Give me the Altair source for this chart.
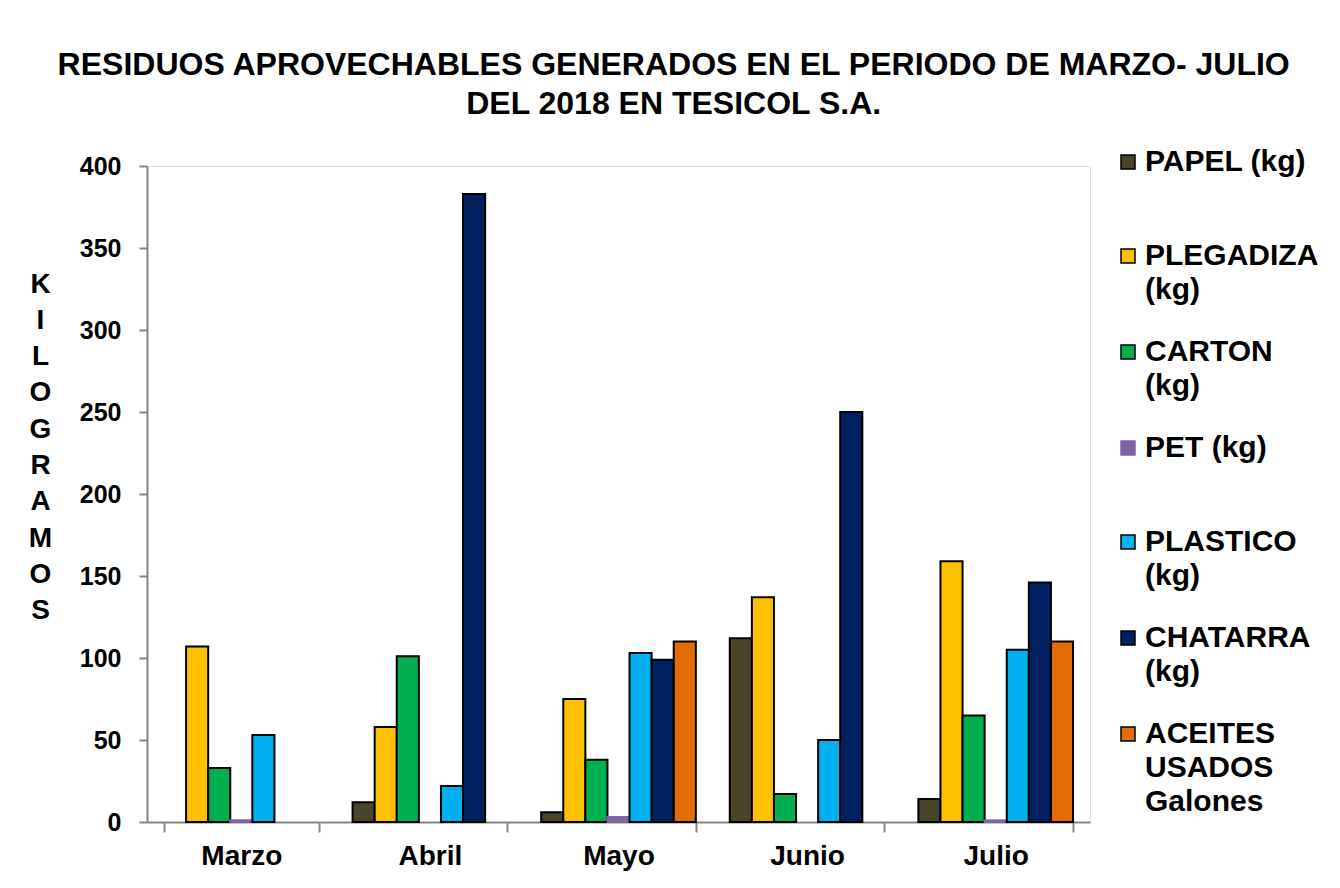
import altair as alt
import pandas as pd

months = ["Marzo", "Abril", "Mayo", "Junio", "Julio"]
series = ["PAPEL (kg)", "PLEGADIZA (kg)", "CARTON (kg)", "PET (kg)",
          "PLASTICO (kg)", "CHATARRA (kg)", "ACEITES USADOS Galones"]
legend_lines = [["PAPEL (kg)"], ["PLEGADIZA", "(kg)"], ["CARTON", "(kg)"], ["PET (kg)"],
                ["PLASTICO", "(kg)"], ["CHATARRA", "(kg)"], ["ACEITES", "USADOS", "Galones"]]
fill_colors = ["#4a452a", "#ffc000", "#00b050", "#8064a2", "#00b0f0", "#002060", "#e36c09"]
stroke_colors = ["#000000", "#000000", "#000000", "#8064a2", "#000000", "#000000", "#000000"]

papel = [0, 12, 6, 112, 14]
plegadiza = [107, 58, 75, 137, 159]
carton = [33, 101, 38, 17, 65]
pet = [1, 0, 3, 0, 1]
plastico = [53, 22, 103, 50, 105]
chatarra = [0, 383, 99, 250, 146]
aceites = [0, 0, 110, 0, 110]

y_ticks = [0, 50, 100, 150, 200, 250, 300, 350, 400]
title_lines = ["RESIDUOS APROVECHABLES GENERADOS EN EL PERIODO DE MARZO- JULIO",
               "DEL 2018 EN TESICOL S.A."]
y_title = list("KILOGRAMOS")

all_vals = [papel, plegadiza, carton, pet, plastico, chatarra, aceites]
rows = []
for s, vals in zip(series, all_vals):
    for m, v in zip(months, vals):
        if v > 0:
            rows.append({"Mes": m, "Serie": s, "Valor": v})
df = pd.DataFrame(rows)

def js_list(lines):
    return "[" + ", ".join("'" + l + "'" for l in lines) + "]"

expr = "''"
for s, lines in reversed(list(zip(series, legend_lines))):
    expr = f"datum.label == '{s}' ? {js_list(lines)} : ({expr})"

FONT = "Liberation Sans"

legend_kw = dict(title=None, orient="none", legendX=966, legendY=-51,
                 labelExpr=expr, labelFont=FONT, labelFontSize=30,
                 labelFontWeight="bold", labelColor="#000000",
                 labelBaseline="middle",
                 labelOffset=2, labelLimit=400,
                 symbolType="square", symbolSize=196,
                 symbolStrokeWidth=1.5, symbolOpacity=1,
                 clipHeight=94, rowPadding=0)

chart = alt.Chart(df).mark_bar(strokeWidth=2).encode(
    x=alt.X("Mes:N", sort=months, title=None,
            scale=alt.Scale(paddingInner=0.18, paddingOuter=0.09),
            axis=alt.Axis(labelAngle=0, labelFontSize=28, labelFont=FONT, labelFontWeight="bold",
                          labelColor="#000000", labelPadding=10, tickBand="extent",
                          tickSize=10, tickColor="#868686", tickWidth=2,
                          domainColor="#868686", domainWidth=2)),
    xOffset=alt.XOffset("Serie:N", sort=series, scale=alt.Scale(domain=series, paddingInner=0, paddingOuter=0)),
    y=alt.Y("Valor:Q", scale=alt.Scale(domain=[0, 400]),
            axis=alt.Axis(values=y_ticks, grid=False, title=y_title, titleAngle=0,
                          titleFont=FONT, titleFontSize=28, titleFontWeight="bold",
                          titleColor="#000000", titleLineHeight=36.3, titleBaseline="top",
                          titleAlign="center", titleX=-107, titleY=104,
                          labelFontSize=25, labelFont=FONT, labelFontWeight="bold",
                          labelColor="#000000", labelPadding=18,
                          tickSize=8, tickColor="#868686", tickWidth=2,
                          domainColor="#868686", domainWidth=2)),
    fill=alt.Fill("Serie:N", sort=series,
                  scale=alt.Scale(domain=series, range=fill_colors),
                  legend=alt.Legend(**legend_kw)),
    stroke=alt.Stroke("Serie:N", sort=series,
                      scale=alt.Scale(domain=series, range=stroke_colors),
                      legend=alt.Legend(**legend_kw)),
).properties(
    width=943, height=656,
    title=alt.TitleParams(title_lines, font=FONT, fontSize=32, fontWeight="bold",
                          color="#000000", anchor="middle", frame="bounds",
                          lineHeight=39, offset=-6),
    padding={"left": 20, "top": 41, "right": 2, "bottom": 5},
).configure_view(stroke=None).configure(
    background="white",
    style={"guide-label": {"lineHeight": 34}},
)

chart.save("out.html", embed_options={"renderer": "svg", "actions": False})
